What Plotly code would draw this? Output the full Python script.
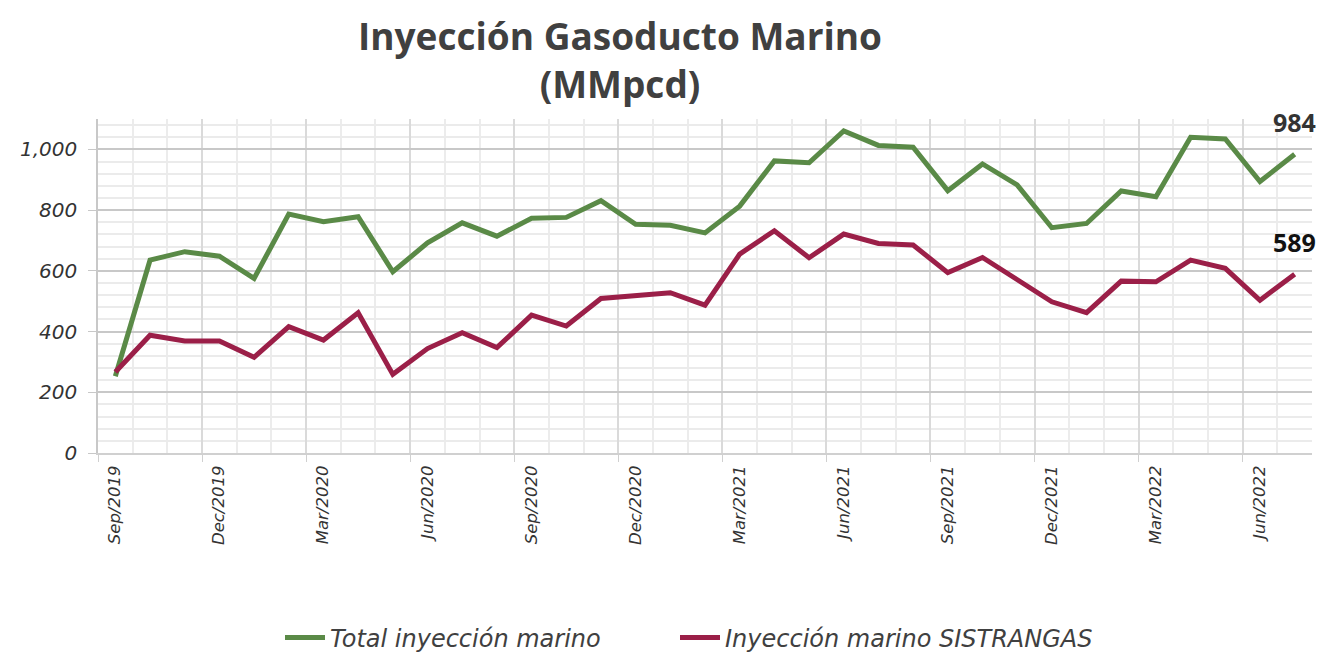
import plotly.graph_objects as go

months = ["Sep/2019","Oct/2019","Nov/2019","Dec/2019","Jan/2020","Feb/2020","Mar/2020","Apr/2020",
          "May/2020","Jun/2020","Jul/2020","Aug/2020","Sep/2020","Oct/2020","Nov/2020","Dec/2020",
          "Jan/2021","Feb/2021","Mar/2021","Apr/2021","May/2021","Jun/2021","Jul/2021","Aug/2021",
          "Sep/2021","Oct/2021","Nov/2021","Dec/2021","Jan/2022","Feb/2022","Mar/2022","Apr/2022",
          "May/2022","Jun/2022","Jul/2022"]

total_marino = [253, 635, 663, 648, 575, 787, 762, 778, 597, 692, 758, 714, 773, 776, 831, 753,
                750, 725, 813, 962, 956, 1061, 1013, 1007, 864, 952, 883, 742, 756, 863, 844,
                1040, 1034, 894, 984]

sistrangas = [267, 388, 369, 369, 315, 416, 372, 462, 259, 344, 396, 347, 454, 418, 509, 520,
              528, 487, 655, 732, 643, 721, 690, 685, 594, 644, 569, 498, 462, 566, 564,
              635, 608, 503, 589]

label_months = months[::3]

GREEN = "#5a8a47"
RED = "#9b1f48"
TFONT = "Open Sans"
FONT = "DejaVu Sans"

idx = list(range(len(months)))
major_pos = [i - 0.5 for i in idx[::3]]
minor_pos = [i - 0.5 for i in range(len(months) + 1)]

# page body has an 8px margin: work in window pixels, convert to figure pixels
OFF = 8
W, H = 1324 - OFF, 655 - OFF
PT, PB, PL, PR = 119 - OFF, 453 - OFF, 98 - OFF, 1312 - OFF
def py(p):
    return (PB - (p - OFF)) / (PB - PT)
def px(p):
    return ((p - OFF) - PL) / (PR - PL)

fig = go.Figure()
fig.add_trace(go.Scatter(x=idx, y=total_marino, mode="lines", name="Total inyección marino",
                         line=dict(color=GREEN, width=5), legend="legend"))
fig.add_trace(go.Scatter(x=idx, y=sistrangas, mode="lines", name="Inyección marino SISTRANGAS",
                         line=dict(color=RED, width=5), legend="legend2"))

fig.add_annotation(x=idx[-1], y=total_marino[-1], text="<b>%d</b>" % total_marino[-1], showarrow=False,
                   yshift=32, font=dict(family=TFONT, size=25, color="#333333"))
fig.add_annotation(x=idx[-1], y=sistrangas[-1], text="<b>%d</b>" % sistrangas[-1], showarrow=False,
                   yshift=32, font=dict(family=TFONT, size=25, color="#111111"))

fig.add_annotation(xref="paper", yref="paper", x=px(620), y=py(OFF), text="<b>Inyección Gasoducto Marino<br>(MMpcd)</b>",
                   showarrow=False, xanchor="center", yanchor="top",
                   font=dict(family=TFONT, size=37, color="#404040"))

legend_common = dict(orientation="h", yanchor="middle", y=py(638), xanchor="left",
                     font=dict(family=FONT, size=24, color="#404040", style="italic"),
                     itemwidth=40, bgcolor="rgba(0,0,0,0)")

fig.update_layout(
    width=W, height=H,
    margin=dict(l=PL, r=W - PR, t=PT, b=H - PB, autoexpand=False),
    paper_bgcolor="white", plot_bgcolor="white",
    showlegend=True,
    legend=dict(x=px(280), **legend_common),
    legend2=dict(x=px(675), **legend_common),
    xaxis=dict(range=[-0.5, len(months) - 0.5], tickmode="array", tickvals=major_pos,
               ticktext=label_months, tickangle=-90, ticklabelshift=17, ticks="outside",
               ticklen=7, tickcolor="#d0d0d0", showgrid=True, gridcolor="#dadada", gridwidth=1.5,
               showline=True, linecolor="#d0d0d0", linewidth=2, zeroline=False, automargin=False,
               ticklabelstandoff=-3,
               tickfont=dict(family=FONT, size=16.5, color="#333333", style="italic"),
               minor=dict(tickmode="array", tickvals=minor_pos, showgrid=True, gridcolor="#ececec",
                          gridwidth=1.5, ticks="")),
    yaxis=dict(range=[0, 1100], tickmode="array", tickvals=[0, 200, 400, 600, 800, 1000],
               tickformat=",", ticks="outside", ticklen=8, tickcolor="#c8c8c8",
               showgrid=True, gridcolor="#c8c8c8", gridwidth=1.5, zeroline=False, automargin=False,
               showline=True, linecolor="#c8c8c8", linewidth=1.5, ticklabelstandoff=7,
               tickfont=dict(family=FONT, size=20, color="#333333", style="italic"),
               minor=dict(dtick=40, tick0=0, showgrid=True, gridcolor="#ebebeb", gridwidth=1.5, ticks="")),
)

fig.write_html("out.html")
